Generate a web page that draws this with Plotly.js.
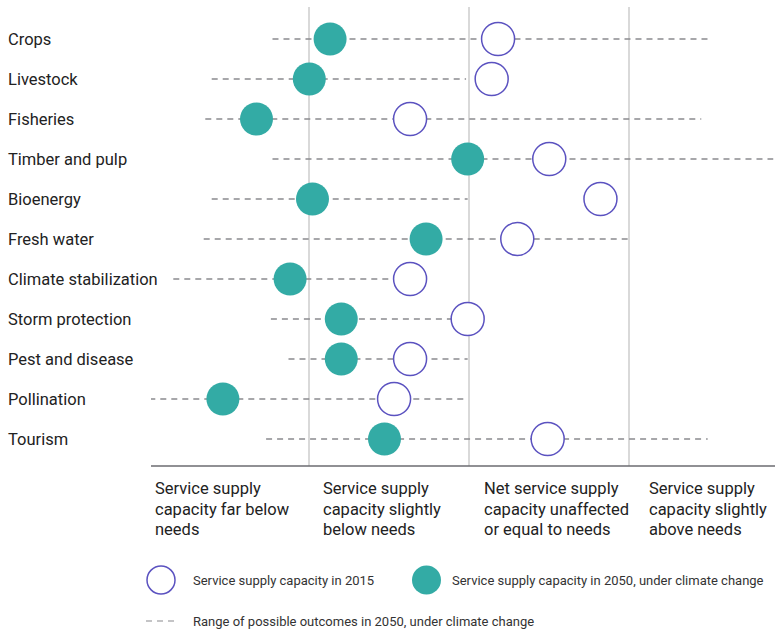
<!DOCTYPE html>
<html><head><meta charset="utf-8">
<script src="https://cdn.plot.ly/plotly-3.0.1.min.js"></script>
<style>html,body{margin:0;padding:0;background:#fff}#chart{width:776px;height:633px}</style>
</head><body><div id="chart"></div>
<script>
// Data
const services = ["Crops","Livestock","Fisheries","Timber and pulp","Bioenergy","Fresh water","Climate stabilization","Storm protection","Pest and disease","Pollination","Tourism"];
const capacity2015 = [2.18, 2.14, 1.63, 2.50, 2.82, 2.30, 1.63, 1.99, 1.63, 1.53, 2.49];
const capacity2050 = [1.13, 1.00, 0.67, 1.99, 1.02, 1.73, 0.88, 1.20, 1.20, 0.46, 1.47];
const rangeLow  = [0.77, 0.39, 0.35, 0.77, 0.39, 0.34, 0.15, 0.76, 0.87, 0.00, 0.73];
const rangeHigh = [3.52, 1.98, 3.45, 3.90, 1.99, 2.99, 1.63, 1.99, 1.99, 1.99, 3.49];
const columnLabels = ["Service supply<br>capacity far below<br>needs","Service supply<br>capacity slightly<br>below needs","Net service supply<br>capacity unaffected<br>or equal to needs","Service supply<br>capacity slightly<br>above needs"];
const legendLabels = ["Service supply capacity in 2015","Service supply capacity in 2050, under climate change","Range of possible outcomes in 2050, under climate change"];

const TEAL = "#33aba5", PURPLE = "#5b52c0", DASH = "#8a8a8e";
const FONT = "Roboto, 'Noto Sans', sans-serif";
const L = 151, T = 7, W = 624, H = 459; // plot area px
const px = v => (v - L) / W;
const py = v => (T + H - v) / H;

// range lines
const rx = [], ry = [];
services.forEach((s, i) => { rx.push(rangeLow[i], rangeHigh[i], null); ry.push(s, s, null); });

const traces = [
  {type:"scatter", mode:"lines", x:rx, y:ry, line:{color:DASH, width:1.5, dash:"6px,5px"}, hoverinfo:"skip", showlegend:false},
  {type:"scatter", mode:"markers", x:capacity2015, y:services, marker:{size:33, color:"#fff", line:{color:PURPLE, width:1.5}}, name:legendLabels[0], showlegend:false},
  {type:"scatter", mode:"markers", x:capacity2050, y:services, marker:{size:33, color:TEAL, line:{width:0}}, name:legendLabels[1], showlegend:false}
];

const annotations = [];
services.forEach(s => annotations.push({xref:"paper", yref:"y", x:px(6), y:s, xanchor:"left", yanchor:"middle", text:s, showarrow:false, font:{family:FONT, size:16.5, color:"#222"}}));
const colX = [153, 321, 482, 647];
columnLabels.forEach((t, i) => t.split("<br>").forEach((line, k) => annotations.push({xref:"paper", yref:"paper", x:px(colX[i]), y:py(489 + 20 * k), xanchor:"left", yanchor:"middle", align:"left", text:line, showarrow:false, font:{family:FONT, size:16.5, color:"#222"}})));
const legPos = [[191, 580], [450, 580], [191, 621]];
legendLabels.forEach((t, i) => annotations.push({xref:"paper", yref:"paper", x:px(legPos[i][0]), y:py(legPos[i][1]), xanchor:"left", yanchor:"middle", text:t, showarrow:false, font:{family:FONT, size:13, color:"#333"}}));

const shapes = [
  {type:"circle", xref:"paper", yref:"paper", x0:px(147), x1:px(175), y0:py(594), y1:py(566), fillcolor:"#fff", line:{color:PURPLE, width:1.5}},
  {type:"circle", xref:"paper", yref:"paper", x0:px(412), x1:px(441), y0:py(594.5), y1:py(565.5), fillcolor:TEAL, line:{width:0}},
  {type:"line", xref:"paper", yref:"paper", x0:px(146), x1:px(177), y0:py(621), y1:py(621), line:{color:DASH, width:1.2, dash:"6px,5px"}}
];

const layout = {
  width:776, height:633,
  margin:{l:L, r:776 - L - W, t:T, b:633 - T - H},
  paper_bgcolor:"#fff", plot_bgcolor:"#fff",
  showlegend:false,
  xaxis:{range:[0.0106, 3.911], tickvals:[1,2,3], showticklabels:false, ticks:"", showgrid:true, gridcolor:"#d9d9d9", gridwidth:2, zeroline:false, showline:false, fixedrange:true},
  yaxis:{type:"category", categoryorder:"array", categoryarray:services, range:[10.675, -0.8], showticklabels:false, ticks:"", showgrid:false, zeroline:false, showline:false, fixedrange:true},
  shapes: shapes.concat([{type:"line", xref:"paper", yref:"paper", x0:0, x1:1, y0:0, y1:0, line:{color:"#6b6b70", width:1.5}}]),
  annotations: annotations,
  hovermode:false
};
Plotly.newPlot("chart", traces, layout, {displayModeBar:false, staticPlot:true});
</script></body></html>
